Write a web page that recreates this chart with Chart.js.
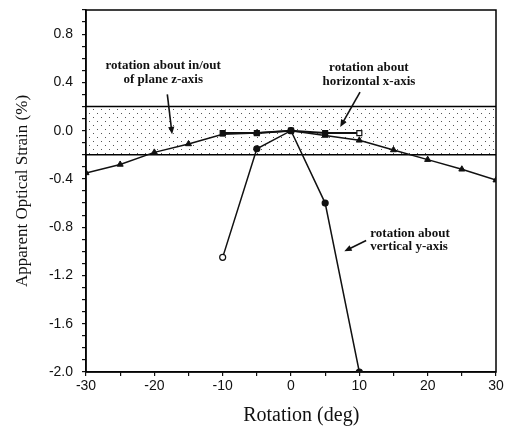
<!DOCTYPE html>
<html>
<head>
<meta charset="utf-8">
<script src="https://cdn.jsdelivr.net/npm/chart.js@4"></script>
<style>
  html, body { margin: 0; padding: 0; background: #fff; }
  #wrap { width: 511px; height: 430px; }
</style>
</head>
<body>
<div id="wrap"><canvas id="strainChart" width="511" height="430"></canvas></div>
<script>
// ─── data ───────────────────────────────────────────────────────────────
// rotation about in/out of plane z-axis (triangles)
var zRot    = [-30, -25, -20, -15, -10, -5, 0, 5, 10, 15, 20, 25, 30];
var zStrain = [-0.35, -0.28, -0.18, -0.11, -0.03, -0.02, 0.0, -0.04, -0.08, -0.16, -0.24, -0.32, -0.41];

// rotation about horizontal x-axis (squares)
var xRot    = [-10, -5, 0, 5, 10];
var xStrain = [-0.02, -0.02, 0.0, -0.02, -0.02];

// rotation about vertical y-axis (circles)
var yRot    = [-10, -5, 0, 5, 10];
var yStrain = [-1.05, -0.15, 0.0, -0.60, -2.0];

// tolerance band
var bandLimits = [0.2, -0.2];

// text labels, anchored in data units
var notes = [
  { lines: ['rotation about in/out', 'of plane z-axis'], x: -18.7, y: [0.54, 0.42], align: 'center' },
  { lines: ['rotation about', 'horizontal x-axis'], x: 11.4, y: [0.52, 0.41], align: 'center' },
  { lines: ['rotation about', 'vertical y-axis'], x: 11.6, y: [-0.85, -0.965], align: 'left' }
];
var arrows = [
  { from: [-18.1, 0.30], to: [-17.4, -0.03] },
  { from: [10.1, 0.32],  to: [7.2, 0.03] },
  { from: [11.0, -0.91], to: [7.8, -1.0] }
];
var xTitle = 'Rotation (deg)';
var xTitleAt = 1.5; // centre of the axis title, in degrees

function pts(xs, ys) {
  return xs.map(function(x, i) { return { x: x, y: ys[i] }; });
}

// ── dotted band + frame ───────────────────────────────────────────────────
function dotPattern(ctx) {
  var c = document.createElement('canvas');
  c.width = 8; c.height = 8;
  var g = c.getContext('2d');
  g.fillStyle = '#fff';
  g.fillRect(0, 0, 8, 8);
  g.fillStyle = '#555';
  g.fillRect(1, 1, 1, 1);
  g.fillRect(5, 5, 1, 1);
  return ctx.createPattern(c, 'repeat');
}

var bandPlugin = {
  id: 'band',
  beforeDatasetsDraw: function(chart) {
    var ctx = chart.ctx, a = chart.chartArea, ys = chart.scales.y;
    var top = ys.getPixelForValue(bandLimits[0]);
    var bot = ys.getPixelForValue(bandLimits[1]);
    ctx.save();
    ctx.fillStyle = dotPattern(ctx);
    ctx.fillRect(a.left, top, a.right - a.left, bot - top);
    ctx.strokeStyle = '#000';
    ctx.lineWidth = 1.5;
    ctx.beginPath();
    ctx.moveTo(a.left, top); ctx.lineTo(a.right, top);
    ctx.moveTo(a.left, bot); ctx.lineTo(a.right, bot);
    ctx.stroke();
    ctx.strokeRect(a.left, a.top, a.right - a.left, a.bottom - a.top);
    ctx.restore();
  },
  afterDatasetsDraw: function(chart) {
    var ctx = chart.ctx, xs = chart.scales.x, ys = chart.scales.y;
    ctx.save();
    ctx.fillStyle = '#111';
    ctx.font = 'bold 13px "Liberation Serif", serif';
    ctx.textBaseline = 'middle';
    notes.forEach(function(n) {
      ctx.textAlign = n.align;
      n.lines.forEach(function(t, i) {
        ctx.fillText(t, xs.getPixelForValue(n.x), ys.getPixelForValue(n.y[i]));
      });
    });
    ctx.strokeStyle = '#111';
    ctx.lineWidth = 1.6;
    arrows.forEach(function(ar) {
      var x1 = xs.getPixelForValue(ar.from[0]), y1 = ys.getPixelForValue(ar.from[1]);
      var x2 = xs.getPixelForValue(ar.to[0]),   y2 = ys.getPixelForValue(ar.to[1]);
      var ang = Math.atan2(y2 - y1, x2 - x1), h = 8;
      ctx.beginPath();
      ctx.moveTo(x1, y1); ctx.lineTo(x2 - Math.cos(ang) * 4, y2 - Math.sin(ang) * 4);
      ctx.stroke();
      ctx.beginPath();
      ctx.moveTo(x2, y2);
      ctx.lineTo(x2 - h * Math.cos(ang - 0.4), y2 - h * Math.sin(ang - 0.4));
      ctx.lineTo(x2 - h * Math.cos(ang + 0.4), y2 - h * Math.sin(ang + 0.4));
      ctx.closePath();
      ctx.fill();
    });
    // x axis title (sits a little right of centre in the original)
    ctx.font = '20px "Liberation Serif", "Times New Roman", serif';
    ctx.textAlign = 'center';
    ctx.fillText(xTitle, xs.getPixelForValue(xTitleAt), xs.bottom - 14);
    ctx.restore();
  }
};

var tickFont = { family: '"Liberation Sans", Arial, sans-serif', size: 14 };
var titleFont = { family: '"Liberation Serif", "Times New Roman", serif', size: 17 };

new Chart(document.getElementById('strainChart'), {
  type: 'line',
  data: {
    datasets: [
      { label: 'z-axis', data: pts(zRot, zStrain), borderColor: '#111', backgroundColor: '#111', borderWidth: 1.5,
        pointStyle: 'triangle', pointRadius: 3.5, pointBorderWidth: 1 },
      { label: 'x-axis', data: pts(xRot, xStrain), borderColor: '#111', borderWidth: 2,
        pointStyle: 'rect', pointRadius: 3.5, pointBorderWidth: 1.2,
        pointBackgroundColor: ['#111', '#111', '#111', '#111', '#fff'] },
      { label: 'y-axis', data: pts(yRot, yStrain), borderColor: '#111', borderWidth: 1.5,
        pointStyle: 'circle', pointRadius: 3, pointBorderWidth: 1.2,
        pointBackgroundColor: ['#fff', '#111', '#111', '#111', '#111'] }
    ]
  },
  plugins: [bandPlugin],
  options: {
    responsive: false,
    animation: false,
    layout: { padding: { top: 10, right: 15, left: 0, bottom: 0 } },
    plugins: { legend: { display: false }, tooltip: { enabled: false } },
    scales: {
      x: {
        type: 'linear', min: -30, max: 30,
        afterFit: function(s) { s.height = 58; },
        ticks: { stepSize: 5, color: '#111', font: tickFont, padding: 2, maxRotation: 0,
          callback: function(v) { return v % 10 === 0 ? String(v) : ''; } },
        grid: { display: true, drawOnChartArea: false, drawTicks: true, tickLength: 4, color: '#111', lineWidth: 1.2 },
        border: { display: true, color: '#111', width: 1.5 }
      },
      y: {
        type: 'linear', min: -2.0, max: 1.0,
        afterFit: function(s) { s.width = 86; s.paddingTop = 0; s.paddingBottom = 0; },
        ticks: { stepSize: 0.1, color: '#111', font: tickFont, padding: 9, autoSkip: false,
          callback: function(v) { return Math.round(v * 10) % 4 === 0 ? v.toFixed(1) : ''; } },
        grid: { display: true, drawOnChartArea: false, drawTicks: true, tickLength: 4, color: '#111', lineWidth: 1.2 },
        border: { display: true, color: '#111', width: 1.5 },
        title: { display: true, text: 'Apparent Optical Strain (%)', color: '#111', font: titleFont, padding: { top: 12, bottom: 0 } }
      }
    }
  }
});
</script>
</body>
</html>
